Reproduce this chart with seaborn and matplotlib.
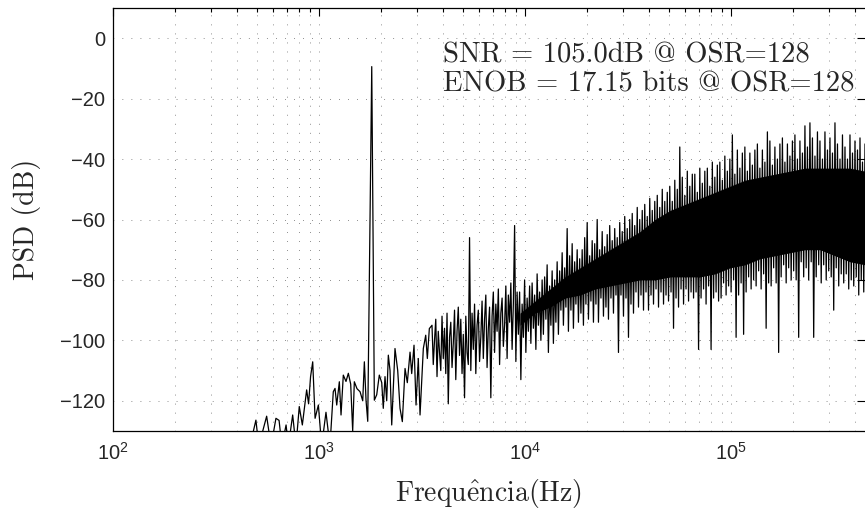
import numpy as np
import pandas as pd
import matplotlib
matplotlib.use("Agg")
import matplotlib.pyplot as plt
from matplotlib.ticker import LogLocator, FixedLocator, NullLocator, NullFormatter
import seaborn as sns

# ---------------- data ----------------
# resolved low-frequency part of the spectrum (Hz, dB)
low_freq_hz = [462, 494, 510, 557, 585, 618, 640, 660, 692, 710, 745, 773, 802, 830,
               871, 890, 910, 932, 957, 993, 1030, 1081, 1130, 1173, 1196, 1219, 1255,
               1279, 1312, 1352, 1388, 1425, 1457, 1484, 1529, 1582, 1630, 1660, 1692,
               1724, 1803, 1856, 1906, 1962, 2016, 2051, 2091, 2131, 2170, 2212, 2254,
               2338, 2410, 2473, 2538, 2616, 2683, 2766, 2818, 2892, 2958, 3034, 3093,
               3209, 3296, 3356, 3432]
low_psd_db = [-135, -126.4, -135, -125.1, -135, -125.8, -126.5, -135, -128, -135,
              -124.7, -135, -121.9, -128, -116.4, -121, -112, -107.1, -125.8, -121.4,
              -135, -123.8, -135, -117, -115.9, -121.4, -113.7, -124.7, -111.5, -113.6,
              -110.9, -114.5, -130, -113.7, -116, -117, -120, -107.1, -120, -126.8,
              -9.4, -119.8, -118, -111.5, -114, -122.5, -112, -120, -104.9, -110, -128,
              -102.7, -110, -122.5, -126.9, -109.3, -114, -103.9, -111, -101.6, -121.4,
              -106, -124.7, -102.7, -98.3, -106, -96.1]

# dense noise-shaped part, read about every 1.25 px on a log-frequency axis
dense_f_start_hz = 3536
dense_f_stop_hz = 447000
dense_psd_db = [
    -95, -108, -100, -93, -112, -97, -104, -110, -92, -106,
    -96, -111, -91, -121, -99, -94, -109, -101, -90, -113,
    -97, -89, -105, -93, -111, -98, -119, -92, -104, -108,
    -66, -110, -91, -103, -88, -111, -95, -90, -107, -99,
    -87, -106, -93, -85, -109, -96, -89, -119, -92, -84,
    -104, -88, -97, -83, -108, -91, -86, -102, -95, -82,
    -106, -85, -94, -81, -103, -88, -62, -107, -84, -98,
    -84, -113, -88, -99, -80, -104, -86, -97, -82, -101,
    -81, -96, -85, -103, -78, -95, -84, -100, -80, -98,
    -79, -93, -75, -104, -82, -95, -77, -101, -80, -94,
    -74, -98, -77, -90, -71, -95, -76, -89, -63, -97,
    -72, -90, -68, -96, -74, -88, -70, -94, -73, -91,
    -70, -95, -66, -88, -61, -93, -72, -87, -67, -94,
    -68, -88, -60, -94, -70, -86, -64, -92, -69, -89,
    -65, -93, -62, -86, -67, -91, -63, -85, -66, -104,
    -61, -85, -64, -92, -59, -86, -63, -99, -60, -88,
    -58, -91, -62, -84, -56, -89, -60, -85, -57, -90,
    -55, -84, -59, -90, -53, -85, -57, -88, -54, -83,
    -52, -89, -56, -84, -50, -88, -54, -85, -51, -87,
    -49, -84, -54, -96, -47, -86, -50, -89, -36, -83,
    -46, -88, -52, -83, -44, -87, -49, -84, -45, -86,
    -45, -84, -51, -103, -43, -86, -48, -83, -44, -88,
    -43, -82, -49, -103, -41, -86, -46, -84, -42, -87,
    -41, -86, -47, -81, -39, -85, -44, -82, -40, -84,
    -32, -80, -45, -99, -37, -85, -43, -81, -38, -98,
    -36, -84, -44, -79, -38, -83, -42, -80, -37, -82,
    -35, -77, -43, -83, -37, -78, -41, -96, -31, -81,
    -34, -82, -42, -76, -36, -81, -40, -104, -35, -79,
    -33, -75, -41, -81, -35, -76, -39, -80, -34, -77,
    -32, -80, -40, -99, -34, -74, -38, -79, -29, -76,
    -36, -80, -28, -74, -33, -99, -39, -79, -31, -75,
    -34, -81, -40, -75, -31, -80, -37, -77, -33, -79,
    -38, -90, -28, -76, -35, -82, -40, -78, -32, -81,
    -36, -78, -40, -83, -32, -80, -38, -82, -34, -79,
    -37, -85, -33, -80, -41, -84, -35]

# solid core of the noise band
core_freq_hz = [9456, 11180, 13225, 15640, 18490, 21870, 25860, 30580, 36160, 42770,
                50570, 59800, 70720, 83620, 98880, 116900, 138300, 163500, 193400,
                228700, 270400, 319800, 378200, 447200]
core_top_db = [-91, -87, -83, -79, -76, -73, -70, -67, -64, -60, -57, -55, -53, -51,
               -49, -47, -46, -45, -44, -43, -43, -43, -43, -44]
core_bottom_db = [-95, -91, -89, -86, -85, -83, -82, -81, -80, -80, -79, -79, -79, -78,
                  -76, -75, -73, -72, -71, -70, -70, -72, -74, -75]

snr_text = "SNR = 105.0dB @ OSR=128"
enob_text = "ENOB = 17.15 bits @ OSR=128"
text_freq_hz = 4000
text_db = [-8.0, -17.6]
x_label = r"Frequ$\hat{\mathrm{e}}$ncia(Hz)"
y_label = "PSD (dB)"
y_ticks = [-120, -100, -80, -60, -40, -20, 0]
x_lim = (100, 447000)
y_lim = (-130, 10)

# ---------------- build table ----------------
dense_freq = np.geomspace(dense_f_start_hz, dense_f_stop_hz, len(dense_psd_db))
df = pd.DataFrame({
    "freq": list(low_freq_hz) + list(dense_freq),
    "psd": list(low_psd_db) + list(dense_psd_db),
})

# ---------------- style ----------------
sns.set_style("white")
plt.rcParams["font.family"] = ["Liberation Sans", "DejaVu Sans"]
plt.rcParams["mathtext.fontset"] = "cm"
plt.rcParams["axes.unicode_minus"] = True

fig = plt.figure(figsize=(8.65, 5.09), dpi=100)
W, H = 865, 509
ax = fig.add_axes([113 / W, 1 - 431 / H, 1 - 113 / W, (431 - 8) / H])
ax.set_xscale("log")

ax.fill_between(core_freq_hz, core_bottom_db, core_top_db, color="black", lw=0)
sns.lineplot(data=df, x="freq", y="psd", ax=ax, color="black", lw=0.9,
             sort=False, estimator=None)

ax.set_xlim(*x_lim)
ax.set_ylim(*y_lim)
ax.xaxis.set_major_locator(LogLocator(base=10, numticks=10))
ax.xaxis.set_minor_locator(LogLocator(base=10, subs=np.arange(2, 10), numticks=100))
ax.xaxis.set_minor_formatter(NullFormatter())
ax.yaxis.set_major_locator(FixedLocator(y_ticks))
ax.yaxis.set_minor_locator(NullLocator())

grid_kw = dict(color="black", lw=0.5, linestyle=(0, (1, 12)), alpha=0.85)
ax.grid(True, which="major", axis="both", **grid_kw)
ax.grid(True, which="minor", axis="x", **grid_kw)
ax.set_axisbelow(False)

ax.tick_params(which="both", direction="in", top=True, right=True, color="black",
               width=0.8)
ax.tick_params(which="major", length=5.5, labelsize=14.5)
ax.tick_params(which="minor", length=3)
ax.tick_params(axis="x", which="major", pad=8)
ax.tick_params(axis="y", which="major", pad=5.5)
for s in ["left", "bottom", "top"]:
    ax.spines[s].set_color("black")
    ax.spines[s].set_linewidth(0.9)
ax.spines["right"].set_visible(False)

ax.set_xlabel(x_label, fontfamily="cmr10", fontsize=20, labelpad=9)
ax.set_ylabel(y_label, fontfamily="cmr10", fontsize=20, labelpad=14)

ax.text(text_freq_hz, text_db[0], snr_text, fontfamily="cmr10", fontsize=20.6,
        va="baseline", ha="left")
ax.text(text_freq_hz, text_db[1], enob_text, fontfamily="cmr10", fontsize=20.6,
        va="baseline", ha="left")

fig.savefig("out.png", dpi=100)
